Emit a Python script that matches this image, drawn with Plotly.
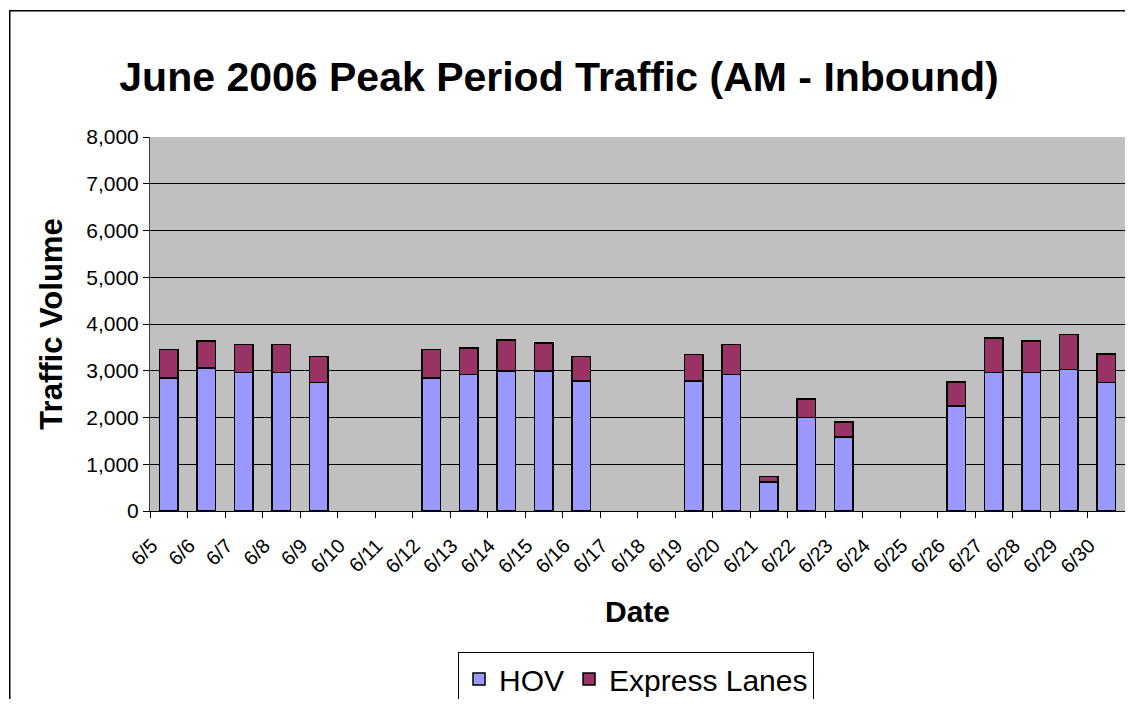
import plotly.graph_objects as go

dates = ["6/5", "6/6", "6/7", "6/8", "6/9", "6/10", "6/11", "6/12", "6/13", "6/14",
         "6/15", "6/16", "6/17", "6/18", "6/19", "6/20", "6/21", "6/22", "6/23",
         "6/24", "6/25", "6/26", "6/27", "6/28", "6/29", "6/30"]
hov = [2850, 3060, 2960, 2960, 2745, None, None, 2850, 2915, 2990,
       2990, 2780, None, None, 2780, 2925, 620, 2005, 1585,
       None, None, 2245, 2965, 2965, 3030, 2745]
express = [610, 575, 600, 600, 555, None, None, 610, 575, 670,
           605, 520, None, None, 570, 635, 115, 390, 315,
           None, None, 510, 735, 670, 750, 610]
y_ticks = [0, 1000, 2000, 3000, 4000, 5000, 6000, 7000, 8000]

# page has an 8px body margin, so the figure starts at (8, 8);
# keep the page inside the 1133x707 window (no scrollbars)
OFF = 8
W, H = 1133 - 2 * OFF, 707 - 2 * OFF
ML, MT = 150 - OFF, 137 - OFF
PW, PH = 1125 - 150, 511 - 137
MR, MB = W - ML - PW, H - MT - PH
FONT = "Liberation Sans, Arial, sans-serif"

fig = go.Figure()
fig.add_trace(go.Bar(x=dates, y=hov, name="HOV",
                     marker=dict(color="#9999FF", line=dict(color="black", width=1.5))))
fig.add_trace(go.Bar(x=dates, y=express, name="Express Lanes",
                     marker=dict(color="#993366", line=dict(color="black", width=1.5))))

def px_x(p):
    return (p - OFF - ML) / PW

def px_y(p):
    return (MT + PH - (p - OFF)) / PH

# outer chart-area border: a large empty bordered box whose right/bottom
# edges fall outside the frame, as in the reference
fig.add_annotation(text=" ", xref="paper", yref="paper",
                   x=px_x(9), y=px_y(10), xanchor="left", yanchor="top",
                   width=1300, height=900, showarrow=False,
                   bordercolor="black", borderwidth=1.5, borderpad=0, bgcolor="rgba(0,0,0,0)")

fig.update_layout(
    width=W, height=H,
    margin=dict(l=ML, r=MR, t=MT, b=MB, autoexpand=False),
    barmode="stack", bargap=0.5,
    paper_bgcolor="white", plot_bgcolor="#C0C0C0",
    font=dict(family=FONT, color="black"),
    title=dict(text="<b>June 2006 Peak Period Traffic (AM - Inbound)</b>",
               font=dict(size=41, family=FONT, color="black"),
               x=(559 - OFF) / W, xanchor="center", y=1 - (77 - OFF) / H, yanchor="middle",
               xref="container", yref="container"),
    showlegend=True,
    legend=dict(orientation="h", x=(636 - OFF - ML) / PW, xanchor="center", y=px_y(652), yanchor="top",
                font=dict(size=30, family=FONT), bordercolor="black", borderwidth=1,
                bgcolor="white", traceorder="normal", itemwidth=30),
    xaxis=dict(type="category", tickangle=-45, tickson="boundaries", ticks="outside",
               ticklen=6, tickcolor="black", showline=True, linecolor="black", linewidth=1,
               tickfont=dict(size=20, family=FONT), ticklabelshift=-17, ticklabelstandoff=14,
               showgrid=False,
               title=dict(text="<b>Date</b>", font=dict(size=30, family=FONT), standoff=24)),
    yaxis=dict(range=[0, 8000], tickvals=y_ticks, tickformat=",d", ticks="outside",
               ticklen=6, tickcolor="black", showline=True, linecolor="#404040", linewidth=1,
               showgrid=True, gridcolor="black", gridwidth=1, zeroline=False,
               tickfont=dict(size=21, family=FONT),
               title=dict(text="<b>Traffic Volume</b>", font=dict(size=31, family=FONT), standoff=14)),
)

fig.write_html("out.html")
